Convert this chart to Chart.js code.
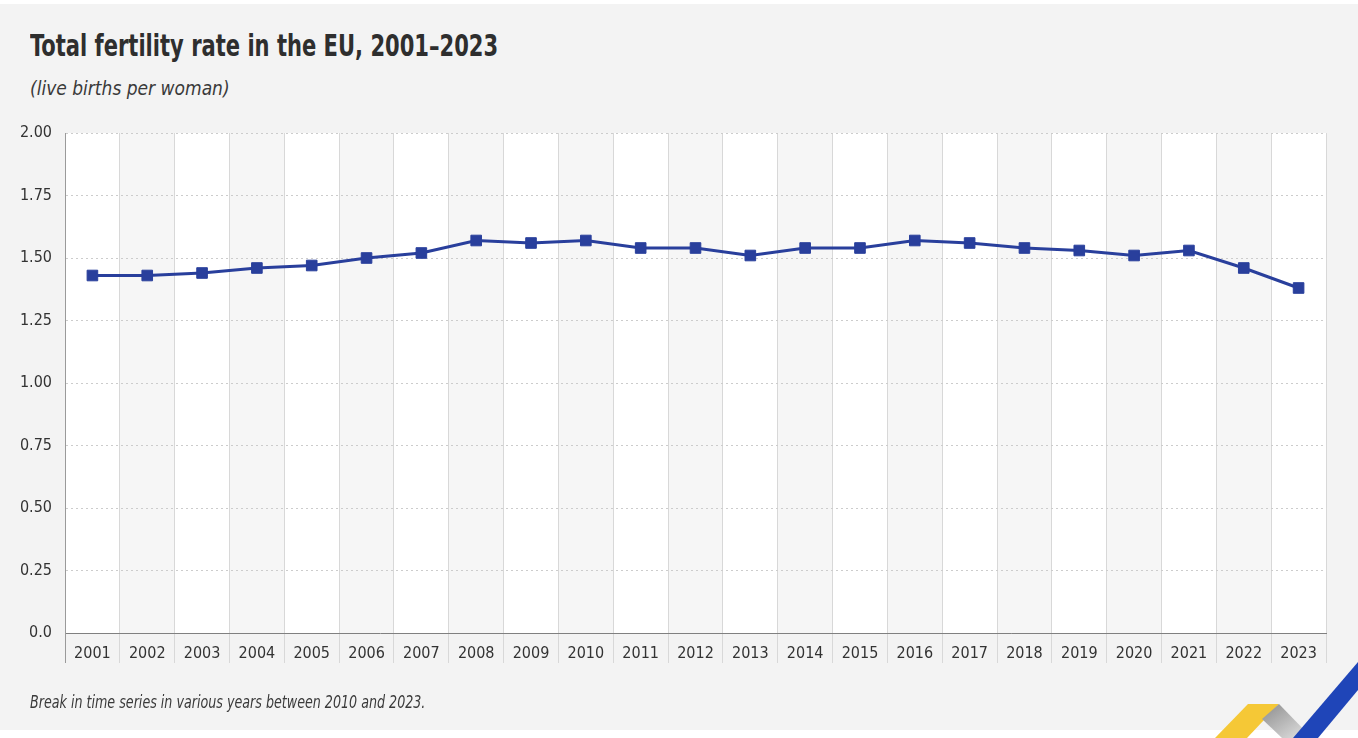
<html>
<head>
	<title>Total fertility rate in the EU</title>
	<meta charset="utf-8">
	<script src="https://cdn.jsdelivr.net/npm/chart.js"></script>

	<style>
		body {
			margin: 0;
			width: 1358px;
			height: 738px;
			background: #ffffff;
			overflow: hidden;
			position: relative;
			font-family: "Liberation Sans Narrow", "DejaVu Sans Condensed", sans-serif;
		}
		#panel {
			position: absolute;
			left: 0; top: 4px;
			width: 1358px; height: 726px;
			background: #f3f3f3;
		}
		#title {
			position: absolute;
			left: 30px; top: 28px;
			font-size: 30px;
			font-weight: bold;
			color: #2e2e2e;
			white-space: nowrap;
			transform: scaleX(0.78);
			transform-origin: left top;
		}
		#subtitle {
			position: absolute;
			left: 30px; top: 77px;
			font-size: 19px;
			font-style: italic;
			color: #3a3a3a;
			white-space: nowrap;
		}
		#note {
			position: absolute;
			left: 30px; top: 692px;
			font-size: 17px;
			font-style: italic;
			color: #3a3a3a;
			white-space: nowrap;
			transform: scaleX(0.83);
			transform-origin: left top;
		}
		#myChart { position: absolute; left: 0; top: 0; }
		#logo { position: absolute; left: 0; top: 0; }
	</style>
</head>

<body>
	<div id="panel"></div>
	<div id="title">Total fertility rate in the EU, 2001–2023</div>
	<div id="subtitle">(live births per woman)</div>
	<canvas id="myChart" width="1358" height="738"></canvas>
	<div id="note">Break in time series in various years between 2010 and 2023.</div>
	<svg id="logo" width="1358" height="738">
		<defs>
			<linearGradient id="grey" x1="0" y1="0" x2="1" y2="1">
				<stop offset="0" stop-color="#8c8c8c"/>
				<stop offset="1" stop-color="#e6e6e6"/>
			</linearGradient>
		</defs>
		<polygon points="1215,738 1248,704 1279,704 1247,738" fill="#f5c836"/>
		<polygon points="1262,719 1279,704 1312,738 1282,738" fill="url(#grey)"/>
		<polygon points="1293,738 1358,662 1358,690 1318,738" fill="#1f45b8"/>
	</svg>

	<script type="text/javascript" charset="utf-8">
		// EU total fertility rate
		var years = ["2001", "2002", "2003", "2004", "2005", "2006", "2007", "2008", "2009", "2010", "2011", "2012",
					 "2013", "2014", "2015", "2016", "2017", "2018", "2019", "2020", "2021", "2022", "2023"];
		var fertility = [1.43, 1.43, 1.44, 1.46, 1.47, 1.50, 1.52, 1.57, 1.56, 1.57, 1.54, 1.54,
						 1.51, 1.54, 1.54, 1.57, 1.56, 1.54, 1.53, 1.51, 1.53, 1.46, 1.38];
		var yTicks = [0, 0.25, 0.5, 0.75, 1, 1.25, 1.5, 1.75, 2];

		var fontFamily = '"Liberation Sans Narrow", "DejaVu Sans Condensed", sans-serif';

		// white plot area with faint grey bands on every other year
		var bands = {
			id: 'bands',
			beforeDraw: function(chart) {
				var ctx = chart.ctx, area = chart.chartArea, x = chart.scales.x;
				var w = area.width / years.length;
				ctx.save();
				ctx.fillStyle = '#ffffff';
				ctx.fillRect(area.left, area.top, area.width, area.height);
				ctx.fillStyle = '#f6f6f6';
				years.forEach(function(y, i) {
					if (i % 2 == 1) {
						var cx = x.getPixelForValue(i);
						ctx.fillRect(cx - w / 2, area.top, w, area.height);
					}
				});
				ctx.restore();
			}
		};

		var ctx = document.getElementById('myChart').getContext('2d');
		var myChart = new Chart(ctx, {
			type: 'line',
			data: {
				labels: years,
				datasets: [{
					label: 'Total fertility rate',
					data: fertility,
					borderColor: '#293f9c',
					backgroundColor: '#293f9c',
					borderWidth: 3,
					pointStyle: 'rect',
					pointRadius: 7.5,
					pointBorderWidth: 1,
					tension: 0
				}]
			},
			options: {
				responsive: false,
				animation: false,
				layout: { padding: { left: 0, top: 133, right: 32, bottom: 75 } },
				plugins: {
					legend: { display: false },
					title: { display: false },
					tooltip: { enabled: false }
				},
				scales: {
					x: {
						offset: true,
						grid: {
							offset: true,
							tickLength: 30,
							color: function(c) { return c.index == 0 ? '#9a9a9a' : '#d8d8d8'; },
							tickColor: function(c) { return c.index == 0 ? '#9a9a9a' : '#d8d8d8'; }
						},
						border: { display: true, color: '#808080', width: 1 },
						ticks: {
							padding: -19,
							color: '#333333',
							font: { family: fontFamily, size: 16 },
							maxRotation: 0,
							autoSkip: false
						},
						afterFit: function(scale) { scale.height = 30; }
					},
					y: {
						min: 0,
						max: 2,
						afterBuildTicks: function(scale) {
							scale.ticks = yTicks.map(function(v) { return { value: v }; });
						},
						grid: { color: '#cccccc', drawTicks: false },
						border: { display: true, color: '#9a9a9a', width: 1, dash: [2, 3] },
						ticks: {
							padding: 13,
							color: '#333333',
							font: { family: fontFamily, size: 16 },
							callback: function(v) { return v == 0 ? '0.0' : v.toFixed(2); }
						},
						afterFit: function(scale) { scale.width = 65; }
					}
				}
			},
			plugins: [bands]
		});
	</script>
</body>
</html>
